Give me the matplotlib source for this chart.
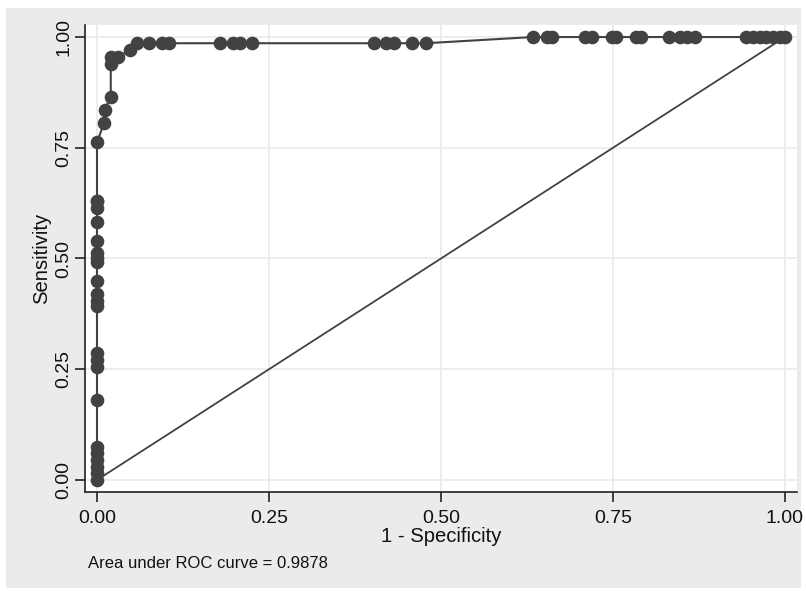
import matplotlib
matplotlib.use("Agg")
import matplotlib.pyplot as plt
from matplotlib.patches import Rectangle

# ROC points (1 - specificity, sensitivity)
fpr = [0.0, 0.0, 0.0, 0.0, 0.0, 0.0,
       0.0, 0.0, 0.0, 0.0,
       0.0, 0.0, 0.0,
       0.0, 0.0, 0.0, 0.0,
       0.0, 0.0, 0.0, 0.0, 0.0,
       0.0,
       0.010, 0.011, 0.020, 0.020, 0.020, 0.030, 0.048,
       0.058, 0.076, 0.094, 0.104, 0.179, 0.197, 0.208, 0.225,
       0.402, 0.420, 0.431, 0.458, 0.478,
       0.634, 0.654, 0.661, 0.709, 0.719, 0.748, 0.755, 0.783, 0.791,
       0.832, 0.847, 0.858, 0.869,
       0.944, 0.954, 0.964, 0.973, 0.983, 0.993, 1.0]
tpr = [0.0, 0.015, 0.030, 0.045, 0.060, 0.075,
       0.181, 0.256, 0.271, 0.287,
       0.392, 0.405, 0.419,
       0.449, 0.492, 0.502, 0.513,
       0.539, 0.583, 0.615, 0.630, 0.630,
       0.762,
       0.805, 0.836, 0.865, 0.940, 0.955, 0.955, 0.971,
       0.986, 0.986, 0.986, 0.986, 0.986, 0.986, 0.986, 0.986,
       0.986, 0.986, 0.986, 0.986, 0.986,
       1.0, 1.0, 1.0, 1.0, 1.0, 1.0, 1.0, 1.0, 1.0,
       1.0, 1.0, 1.0, 1.0,
       1.0, 1.0, 1.0, 1.0, 1.0, 1.0, 1.0]
ref_x = [0.0, 1.0]
ref_y = [0.0, 1.0]
ticks = [0.0, 0.25, 0.5, 0.75, 1.0]
tick_labels = ["0.00", "0.25", "0.50", "0.75", "1.00"]
auc_text = "Area under ROC curve = 0.9878"

plt.rcParams['font.family'] = ['Liberation Sans', 'DejaVu Sans']

W, H = 806, 591
fig = plt.figure(figsize=(W / 100, H / 100), dpi=100, facecolor="white")
bg = Rectangle((6 / W, 1 - 588 / H), (801 - 6) / W, (588 - 8) / H,
               transform=fig.transFigure, facecolor="#ebebeb",
               edgecolor="none", zorder=-10)
fig.add_artist(bg)

ax = fig.add_axes([85 / W, 1 - 492 / H, (797 - 85) / W, (492 - 25) / H])
ax.set_zorder(1)
ax.set_facecolor("white")
ax.set_xlim(-12 / 688, 1 + 12 / 688)
ax.set_ylim(-12 / 442, 1 + 12 / 442)

col = "#424242"
ax.plot(ref_x, ref_y, color=col, lw=1.3, zorder=2)
ax.plot(fpr, tpr, color=col, lw=1.5, marker="o", ms=8.8,
        markerfacecolor=col, markeredgecolor=col, zorder=3, clip_on=False)

ax.set_xticks(ticks)
ax.set_xticklabels(tick_labels)
ax.set_yticks(ticks)
ax.set_yticklabels(tick_labels, rotation=90, va="center")
ax.grid(True, color="#ececec", lw=1.3)
ax.set_axisbelow(True)
for s in ["top", "right"]:
    ax.spines[s].set_visible(False)
for s in ["left", "bottom"]:
    ax.spines[s].set_color("#222222")
    ax.spines[s].set_linewidth(1.2)
ax.tick_params(axis="both", direction="out", length=7, width=1.2,
               color="#222222", labelsize=14, labelcolor="#111111")
ax.tick_params(axis="x", pad=6)
ax.tick_params(axis="y", pad=2)

ax.set_xlabel("1 - Specificity", fontsize=14.6, color="#111111", labelpad=0)
ax.set_ylabel("Sensitivity", fontsize=14.6, color="#111111", labelpad=3)

fig.text(88 / W, 1 - 563 / H, auc_text, fontsize=12, color="#111111",
         ha="left", va="center")

fig.savefig("out.png", dpi=100, facecolor=fig.get_facecolor())
